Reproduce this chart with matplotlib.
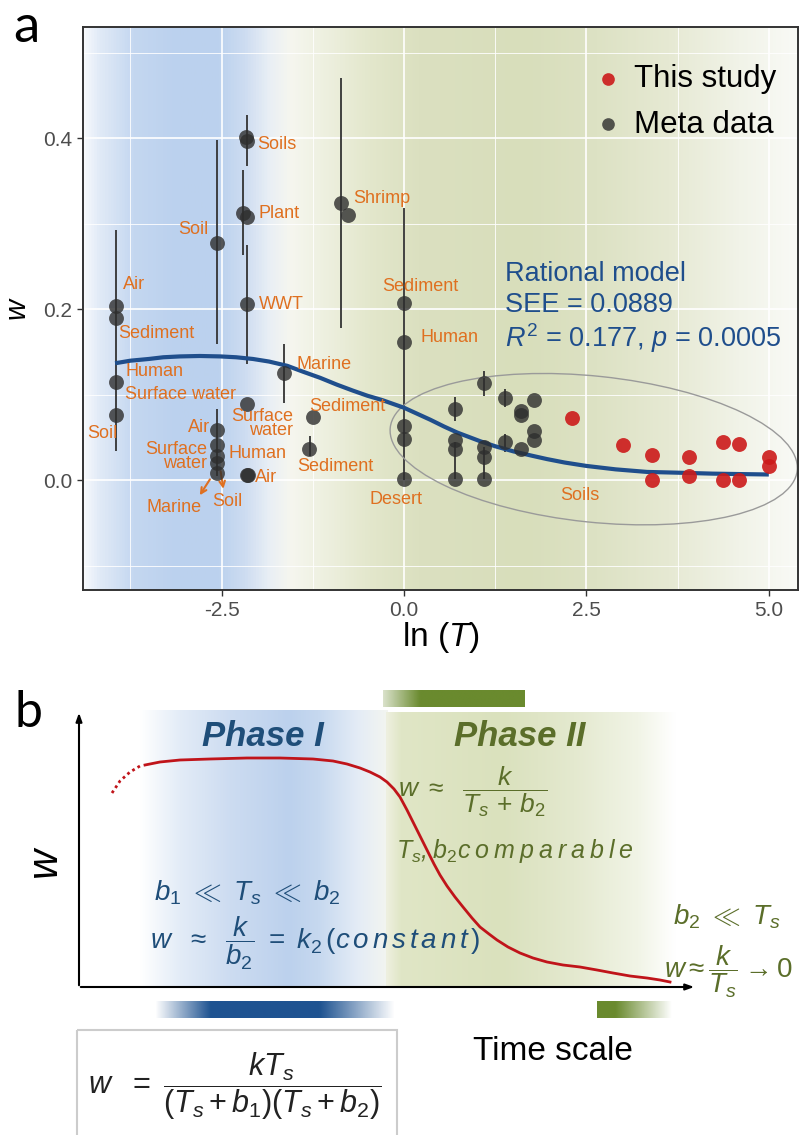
import numpy as np
import matplotlib
matplotlib.use("Agg")
import matplotlib.pyplot as plt
from matplotlib.colors import LinearSegmentedColormap, to_rgba
from matplotlib.patches import Ellipse, Rectangle
from matplotlib.transforms import IdentityTransform

plt.rcParams["font.family"] = ["Liberation Sans", "DejaVu Sans"]
plt.rcParams["mathtext.fontset"] = "custom"
plt.rcParams["mathtext.rm"] = "Liberation Sans"
plt.rcParams["mathtext.it"] = "Liberation Sans:italic"
plt.rcParams["mathtext.bf"] = "Liberation Sans:bold"

# ---------------- panel a data ----------------
# meta data points (ln T, w)
meta_x = [-3.95, -3.95, -3.95, -3.95, -2.56, -2.15, -2.16, -2.21, -2.15, -2.15,
          -0.87, -0.77, 0.0, 0.0, 0.0, 0.0, 0.0, -1.64, -2.15, -1.25, -1.30,
          -2.56, -2.56, -2.56, -2.56, -2.56, -2.15, -2.14,
          0.70, 0.70, 0.70, 0.70, 1.10, 1.10, 1.10, 1.10, 1.38, 1.38,
          1.61, 1.61, 1.61, 1.78, 1.78, 1.78]
meta_y = [0.204, 0.190, 0.115, 0.076, 0.278, 0.397, 0.401, 0.313, 0.308, 0.206,
          0.324, 0.310, 0.207, 0.162, 0.064, 0.049, 0.002, 0.126, 0.089, 0.074, 0.037,
          0.059, 0.041, 0.029, 0.021, 0.009, 0.006, 0.006,
          0.084, 0.047, 0.037, 0.002, 0.114, 0.039, 0.027, 0.002, 0.096, 0.045,
          0.081, 0.076, 0.037, 0.094, 0.058, 0.047]

# error bars (x, low, high)
err_x = [-3.95, -2.56, -2.15, -2.21, -2.15, -0.87, 0.0, -1.64, -1.29, -2.56,
         0.70, 0.70, 1.10, 1.10, 1.38, 1.38]
err_lo = [0.035, 0.159, 0.368, 0.264, 0.136, 0.178, 0.0, 0.091, 0.029, 0.005,
          0.070, 0.002, 0.099, 0.002, 0.086, 0.033]
err_hi = [0.293, 0.398, 0.427, 0.363, 0.275, 0.470, 0.318, 0.160, 0.052, 0.084,
          0.098, 0.045, 0.128, 0.039, 0.107, 0.054]

# this study
study_x = [2.30, 3.00, 3.40, 3.40, 3.90, 3.90, 4.37, 4.37, 4.59, 4.59, 5.00, 5.00]
study_y = [0.073, 0.042, 0.030, 0.001, 0.027, 0.005, 0.045, 0.001, 0.043, 0.000, 0.028, 0.017]

# rational model curve
curve_x = [-3.96, -3.75, -3.5, -3.3, -3.07, -2.8, -2.52, -2.3, -2.07, -1.85, -1.60,
           -1.38, -1.15, -0.92, -0.70, -0.50, -0.30, 0.0, 0.18, 0.36, 0.55, 0.73,
           1.04, 1.25, 1.50, 1.75, 1.96, 2.2, 2.5, 2.9, 3.33, 3.8, 4.23, 4.6, 5.0]
curve_y = [0.137, 0.140, 0.142, 0.144, 0.145, 0.1455, 0.145, 0.144, 0.142, 0.139, 0.134,
           0.127, 0.120, 0.112, 0.105, 0.099, 0.094, 0.085, 0.078, 0.071, 0.063, 0.056,
           0.046, 0.040, 0.034, 0.029, 0.025, 0.021, 0.017, 0.013, 0.010, 0.009, 0.008, 0.0075, 0.007]

# sample labels
lab_text = ["Air", "Sediment", "Human", "Surface water", "Soil", "Soil", "Soils", "Plant",
            "WWT", "Shrimp", "Sediment", "Human", "Marine", "Sediment", "Surface\nwater",
            "Air", "Surface\nwater", "Human", "Air", "Sediment", "Marine", "Soil", "Desert", "Soils"]
lab_x = [-3.85, -3.92, -3.82, -3.82, -4.34, -2.68, -2.01, -1.99, -1.99, -0.70, -0.30, 0.22,
         -1.47, -1.30, -1.52, -2.66, -2.70, -2.41, -2.04, -1.47, -3.53, -2.63, -0.47, 2.14]
lab_y = [0.229, 0.172, 0.127, 0.101, 0.055, 0.293, 0.393, 0.312, 0.206, 0.329, 0.227, 0.167,
         0.135, 0.087, 0.067, 0.062, 0.028, 0.031, 0.003, 0.016, -0.031, -0.025, -0.022, -0.017]
lab_ha = ["left"] * 5 + ["right"] + ["left"] * 8 + ["right", "right", "right"] + ["left"] * 7

# ---------------- panel b schematic curve (pixel coords) ----------------
dot_x = [112, 120, 130, 140]
dot_y = [793, 781, 772, 766]
sch_x = [145, 160, 180, 210, 247, 280, 313, 333, 347, 360, 370, 380, 387, 394, 400, 407,
         413, 420, 427, 434, 440, 447, 455, 463, 472, 480, 489, 497, 508, 520, 533, 547,
         563, 580, 597, 613, 630, 647, 660, 670]
sch_y = [765, 762, 760, 759, 758, 758, 759, 761, 764, 768, 772, 777, 782, 789, 797, 810,
         822, 836, 850, 864, 875, 886, 897, 907, 918, 927, 934, 940, 947, 953, 958, 962,
         965, 967, 970, 973, 976, 978, 980, 982]

ORANGE = "#df7020"
BLUE = "#1f4e8c"
DBLUE = "#1f4e79"
GREEN = "#5b6e2a"

W, H = 801, 1135
fig = plt.figure(figsize=(W / 100, H / 100), dpi=100)

# ---------------- panel a ----------------
ax = fig.add_axes([83 / W, 1 - 590 / H, 715 / W, 563 / H])
xlim = (-4.4, 5.4)
ylim = (-0.128, 0.53)

bg_stops = [(0.00, "#f7f9fc"), (0.02, "#e2ebf7"), (0.07, "#c4d7f0"), (0.13, "#bbd1ee"),
            (0.19, "#bcd2ee"), (0.225, "#cddcf1"), (0.26, "#e9eff5"), (0.29, "#f6f6ef"),
            (0.33, "#eff1e2"), (0.40, "#e3e7cc"), (0.47, "#dbe0c0"), (0.62, "#d8debb"),
            (0.72, "#dde2c4"), (0.82, "#e6e9d3"), (0.92, "#f1f3e8"), (1.0, "#f9faf6")]
cmap_bg = LinearSegmentedColormap.from_list("bg", bg_stops)
ax.imshow(np.linspace(0, 1, 512).reshape(1, -1), cmap=cmap_bg, aspect="auto",
          extent=(xlim[0], xlim[1], ylim[0], ylim[1]), zorder=-1)

ax.set_xlim(xlim)
ax.set_ylim(ylim)
ax.set_xticks([-2.5, 0.0, 2.5, 5.0])
ax.set_xticklabels(["-2.5", "0.0", "2.5", "5.0"])
ax.set_yticks([0.0, 0.2, 0.4])
ax.set_yticklabels(["0.0", "0.2", "0.4"])
ax.set_xticks([-3.75, -1.25, 1.25, 3.75], minor=True)
ax.set_yticks([-0.1, 0.1, 0.3, 0.5], minor=True)
ax.set_axisbelow(True)
ax.grid(True, which="major", color="white", lw=1.2)
ax.grid(True, which="minor", color="white", lw=0.6)
ax.tick_params(which="major", length=4, width=1, color="#333333",
               labelsize=15, labelcolor="#4d4d4d", pad=4)
ax.tick_params(which="minor", length=0)
for s in ax.spines.values():
    s.set_color("#333333")
    s.set_linewidth(1.4)

ax.set_xlabel(r"ln ($T$)", fontsize=24, labelpad=0)
ax.set_ylabel(r"$w$", fontsize=21, labelpad=8)

ax.vlines(err_x, err_lo, err_hi, color="#333333", lw=1.3, zorder=2)
ax.plot(curve_x, curve_y, color=BLUE, lw=3, zorder=3, solid_capstyle="butt")
meta = ax.scatter(meta_x, meta_y, s=115, color="#2e2e2e", alpha=0.8, lw=0, zorder=4)
study = ax.scatter(study_x, study_y, s=115, color="#cc1a1a", alpha=0.9, lw=0, zorder=4)

for t, x, y, ha in zip(lab_text, lab_x, lab_y, lab_ha):
    ax.text(x, y, t, color=ORANGE, fontsize=13, ha=ha, va="center",
            linespacing=0.75, zorder=5)

# arrows to Marine / Soil
ax.annotate("", xy=(-2.82, -0.020), xytext=(-2.64, 0.004),
            arrowprops=dict(arrowstyle="->", color=ORANGE, lw=1.5))
ax.annotate("", xy=(-2.47, -0.013), xytext=(-2.52, 0.014),
            arrowprops=dict(arrowstyle="->", color=ORANGE, lw=1.5))

# ellipse around the soils
cx, cy = ax.transData.transform((2.60, 0.0366))
ax.add_patch(Ellipse((cx, cy), 2 * 204.6, 2 * 73, angle=-6, fill=False,
                     edgecolor="#9a9a9a", lw=1.0, transform=IdentityTransform(), zorder=2))

ax.text(1.38, 0.241, "Rational model", color=BLUE, fontsize=19.5, va="center")
ax.text(1.38, 0.205, "SEE = 0.0889", color=BLUE, fontsize=19.5, va="center")
ax.text(1.38, 0.166, r"$R^2$ = 0.177, $p$ = 0.0005", color=BLUE, fontsize=19.5, va="center")

ax.legend([study, meta], ["This study", "Meta data"], loc="upper left",
          bbox_to_anchor=(0.69, 0.962), frameon=False, fontsize=22.5,
          handlelength=1.0, handletextpad=0.35, labelspacing=0.5, borderpad=0,
          markerscale=0.85)

fig.text(13 / W, 1 - 42 / H, "a", fontsize=38, family="Lato", va="baseline")

# ---------------- panel b (schematic, pixel coords) ----------------
axb = fig.add_axes([0, 0, 1, 485 / H])
axb.set_xlim(0, W)
axb.set_ylim(H, 650)
axb.axis("off")


def hgrad(x0, x1, y0, y1, stops, z=0):
    cm = LinearSegmentedColormap.from_list("g", [(p, to_rgba(c, a)) for p, c, a in stops])
    axb.imshow(np.linspace(0, 1, 512).reshape(1, -1), cmap=cm, aspect="auto",
               extent=(x0, x1, y1, y0), zorder=z, interpolation="bilinear")


# phase backgrounds
hgrad(140, 388, 710, 987, [(0, "#ffffff", 1), (0.16, "#e3ecf7", 1), (0.36, "#cddcf1", 1),
                           (0.6, "#bcd1ed", 1), (0.72, "#c6d8ef", 1), (0.88, "#e4ecf6", 1),
                           (1, "#f3f5f0", 1)])
hgrad(386, 676, 712, 987, [(0, "#eef0e0", 1), (0.05, "#e0e6c6", 1), (0.4, "#dae1bd", 1),
                           (0.65, "#e4e9cf", 1), (0.87, "#f1f4e6", 1), (1, "#ffffff", 1)])
# phase bars
hgrad(155, 395, 1001, 1018, [(0, "#1f5391", 0), (0.23, "#1f5391", 1), (0.69, "#1f5391", 1),
                             (1, "#1f5391", 0)], z=1)
hgrad(383, 525, 690, 707, [(0, "#6a8a2e", 0.25), (0.26, "#6a8a2e", 1), (1, "#6a8a2e", 1)], z=1)
hgrad(597, 672, 1001, 1018, [(0, "#6a8a2e", 1), (0.25, "#6a8a2e", 1), (1, "#6a8a2e", 0)], z=1)

# axes arrows
axb.annotate("", xy=(79, 710), xytext=(79, 988),
             arrowprops=dict(arrowstyle="-|>,head_length=0.5,head_width=0.18", color="black", lw=1.5))
axb.annotate("", xy=(697, 987), xytext=(78, 987),
             arrowprops=dict(arrowstyle="-|>,head_length=0.5,head_width=0.18", color="black", lw=1.5))

axb.plot(dot_x, dot_y, color="#c0141a", lw=2, ls=(0, (1, 1.2)), zorder=3)
axb.plot(sch_x, sch_y, color="#c0141a", lw=2, zorder=3)

axb.text(263, 737, "Phase I", color=DBLUE, fontsize=25, weight="bold",
         style="italic", ha="center", va="center", zorder=4)
axb.text(520, 737, "Phase II", color=GREEN, fontsize=25, weight="bold",
         style="italic", ha="center", va="center", zorder=4)

axb.text(398, 792, r"$w\ \approx\ \ \dfrac{k}{T_s\, +\, b_2}$", color=GREEN, fontsize=19,
         ha="left", va="center", zorder=4)
axb.text(396, 851, r"$T_s$, $b_2$c o m p a r a b l e".replace(" ", "\u2009"),
         color=GREEN, fontsize=18, style="italic", ha="left", va="center", zorder=4)

axb.text(247, 893, r"$b_1\ \ll\ T_s\ \ll\ b_2$", color=DBLUE, fontsize=20,
         ha="center", va="center", zorder=4)
axb.text(150, 943, r"$w\ \ \approx\ \ \dfrac{k}{b_2}\ =\ k_2\,(c\,o\,n\,s\,t\,a\,n\,t\,)$",
         color=DBLUE, fontsize=20, ha="left", va="center", zorder=4)

axb.text(673, 917, r"$b_2\ \ll\ T_s$", color=GREEN, fontsize=20, ha="left", va="center", zorder=4)
axb.text(664, 972, r"$w \approx \dfrac{k}{T_s} \rightarrow 0$", color=GREEN, fontsize=20,
         ha="left", va="center", zorder=4)

axb.text(47, 863, r"$w$", fontsize=30, rotation=90, ha="center", va="center")
axb.text(553, 1052, "Time scale", fontsize=24, ha="center", va="center")

axb.add_patch(Rectangle((77, 1030), 320, 120, fill=False, edgecolor="#cccccc", lw=1.5))
axb.text(88, 1086, r"$w\ \ =\ \dfrac{kT_s}{(T_s+b_1)(T_s+b_2)}$", fontsize=22,
         color="#222222", ha="left", va="center")

fig.text(14 / W, 1 - 727 / H, "b", fontsize=36, family="Lato", va="baseline")

fig.savefig("out.png", dpi=100)
